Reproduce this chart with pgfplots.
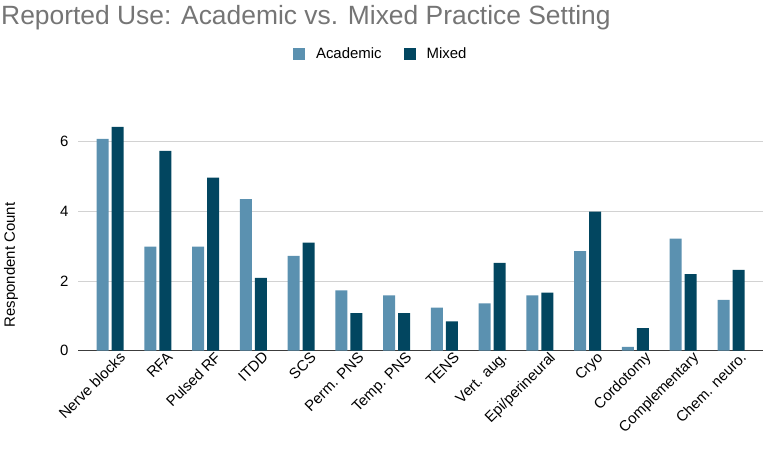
\documentclass[border=0pt]{standalone}
\usepackage{pgfplots}
\pgfplotsset{compat=1.18}
\usepackage{fontspec}
\setmainfont{Liberation Sans}
\definecolor{acad}{RGB}{91,145,176}
\definecolor{mixd}{RGB}{2,70,96}
\definecolor{titlegray}{RGB}{117,117,117}
\definecolor{gridgray}{RGB}{210,210,210}
\definecolor{axisdark}{RGB}{60,60,60}

% Reported use by practice setting, one row per modality
\pgfplotstableread{
idx academic mixed
0  6.08 6.43
1  2.99 5.74
2  2.99 4.97
3  4.35 2.09
4  2.72 3.10
5  1.73 1.08
6  1.59 1.08
7  1.24 0.84
8  1.36 2.52
9  1.59 1.67
10 2.86 3.99
11 0.11 0.65
12 3.22 2.20
13 1.46 2.32
}\usedata

\begin{document}
\begin{tikzpicture}
\useasboundingbox (0,0) rectangle (764bp,451bp);
\node[anchor=base west, text=titlegray, inner sep=0pt]
  at (1bp,426bp) {\fontsize{26.5}{30}\selectfont Reported Use: Academic vs. Mixed Practice Setting};
\node[rotate=90, anchor=center, inner sep=0pt]
  at (11bp,186bp) {\fontsize{15}{17}\selectfont Respondent Count};
\begin{axis}[
  at={(78bp,100.3bp)}, anchor=south west,
  scale only axis, width=685bp, height=243.8bp,
  ybar=3bp, bar width=12bp,
  xmin=-0.67, xmax=13.67,
  ymin=0, ymax=7,
  ytick={0,2,4,6},
  xtick={0,...,13},
  xticklabels={Nerve blocks,RFA,Pulsed RF,ITDD,SCS,Perm. PNS,Temp. PNS,TENS,Vert. aug.,Epi/perineural,Cryo,Cordotomy,Complementary,Chem. neuro.},
  x tick label style={rotate=45, anchor=north east, inner sep=1bp, xshift=7bp, yshift=-5bp,
    font=\fontsize{15}{17}\selectfont},
  y tick label style={font=\fontsize{15}{17}\selectfont, xshift=-6bp},
  /pgf/number format/assume math mode=true,
  major tick length=0pt,
  axis x line*=bottom, axis y line*=left,
  y axis line style={draw=none},
  x axis line style={axisdark, line width=1bp, -},
  ymajorgrids, grid style={gridgray, line width=0.9bp},
  legend style={draw=none, at={(0.442,1.217)}, anchor=center, legend columns=2,
    font=\fontsize{15}{17}\selectfont,
    /tikz/every odd column/.append style={column sep=9bp},
    /tikz/every even column/.append style={column sep=20bp}},
  legend image code/.code={\fill[#1] (0bp,-6bp) rectangle (12bp,6bp);},
  clip=false,
]
\addplot[fill=acad, draw=none] table[x=idx, y=academic] \usedata;
\addplot[fill=mixd, draw=none] table[x=idx, y=mixed] \usedata;
\legend{Academic, Mixed}
\end{axis}
\end{tikzpicture}
\end{document}
